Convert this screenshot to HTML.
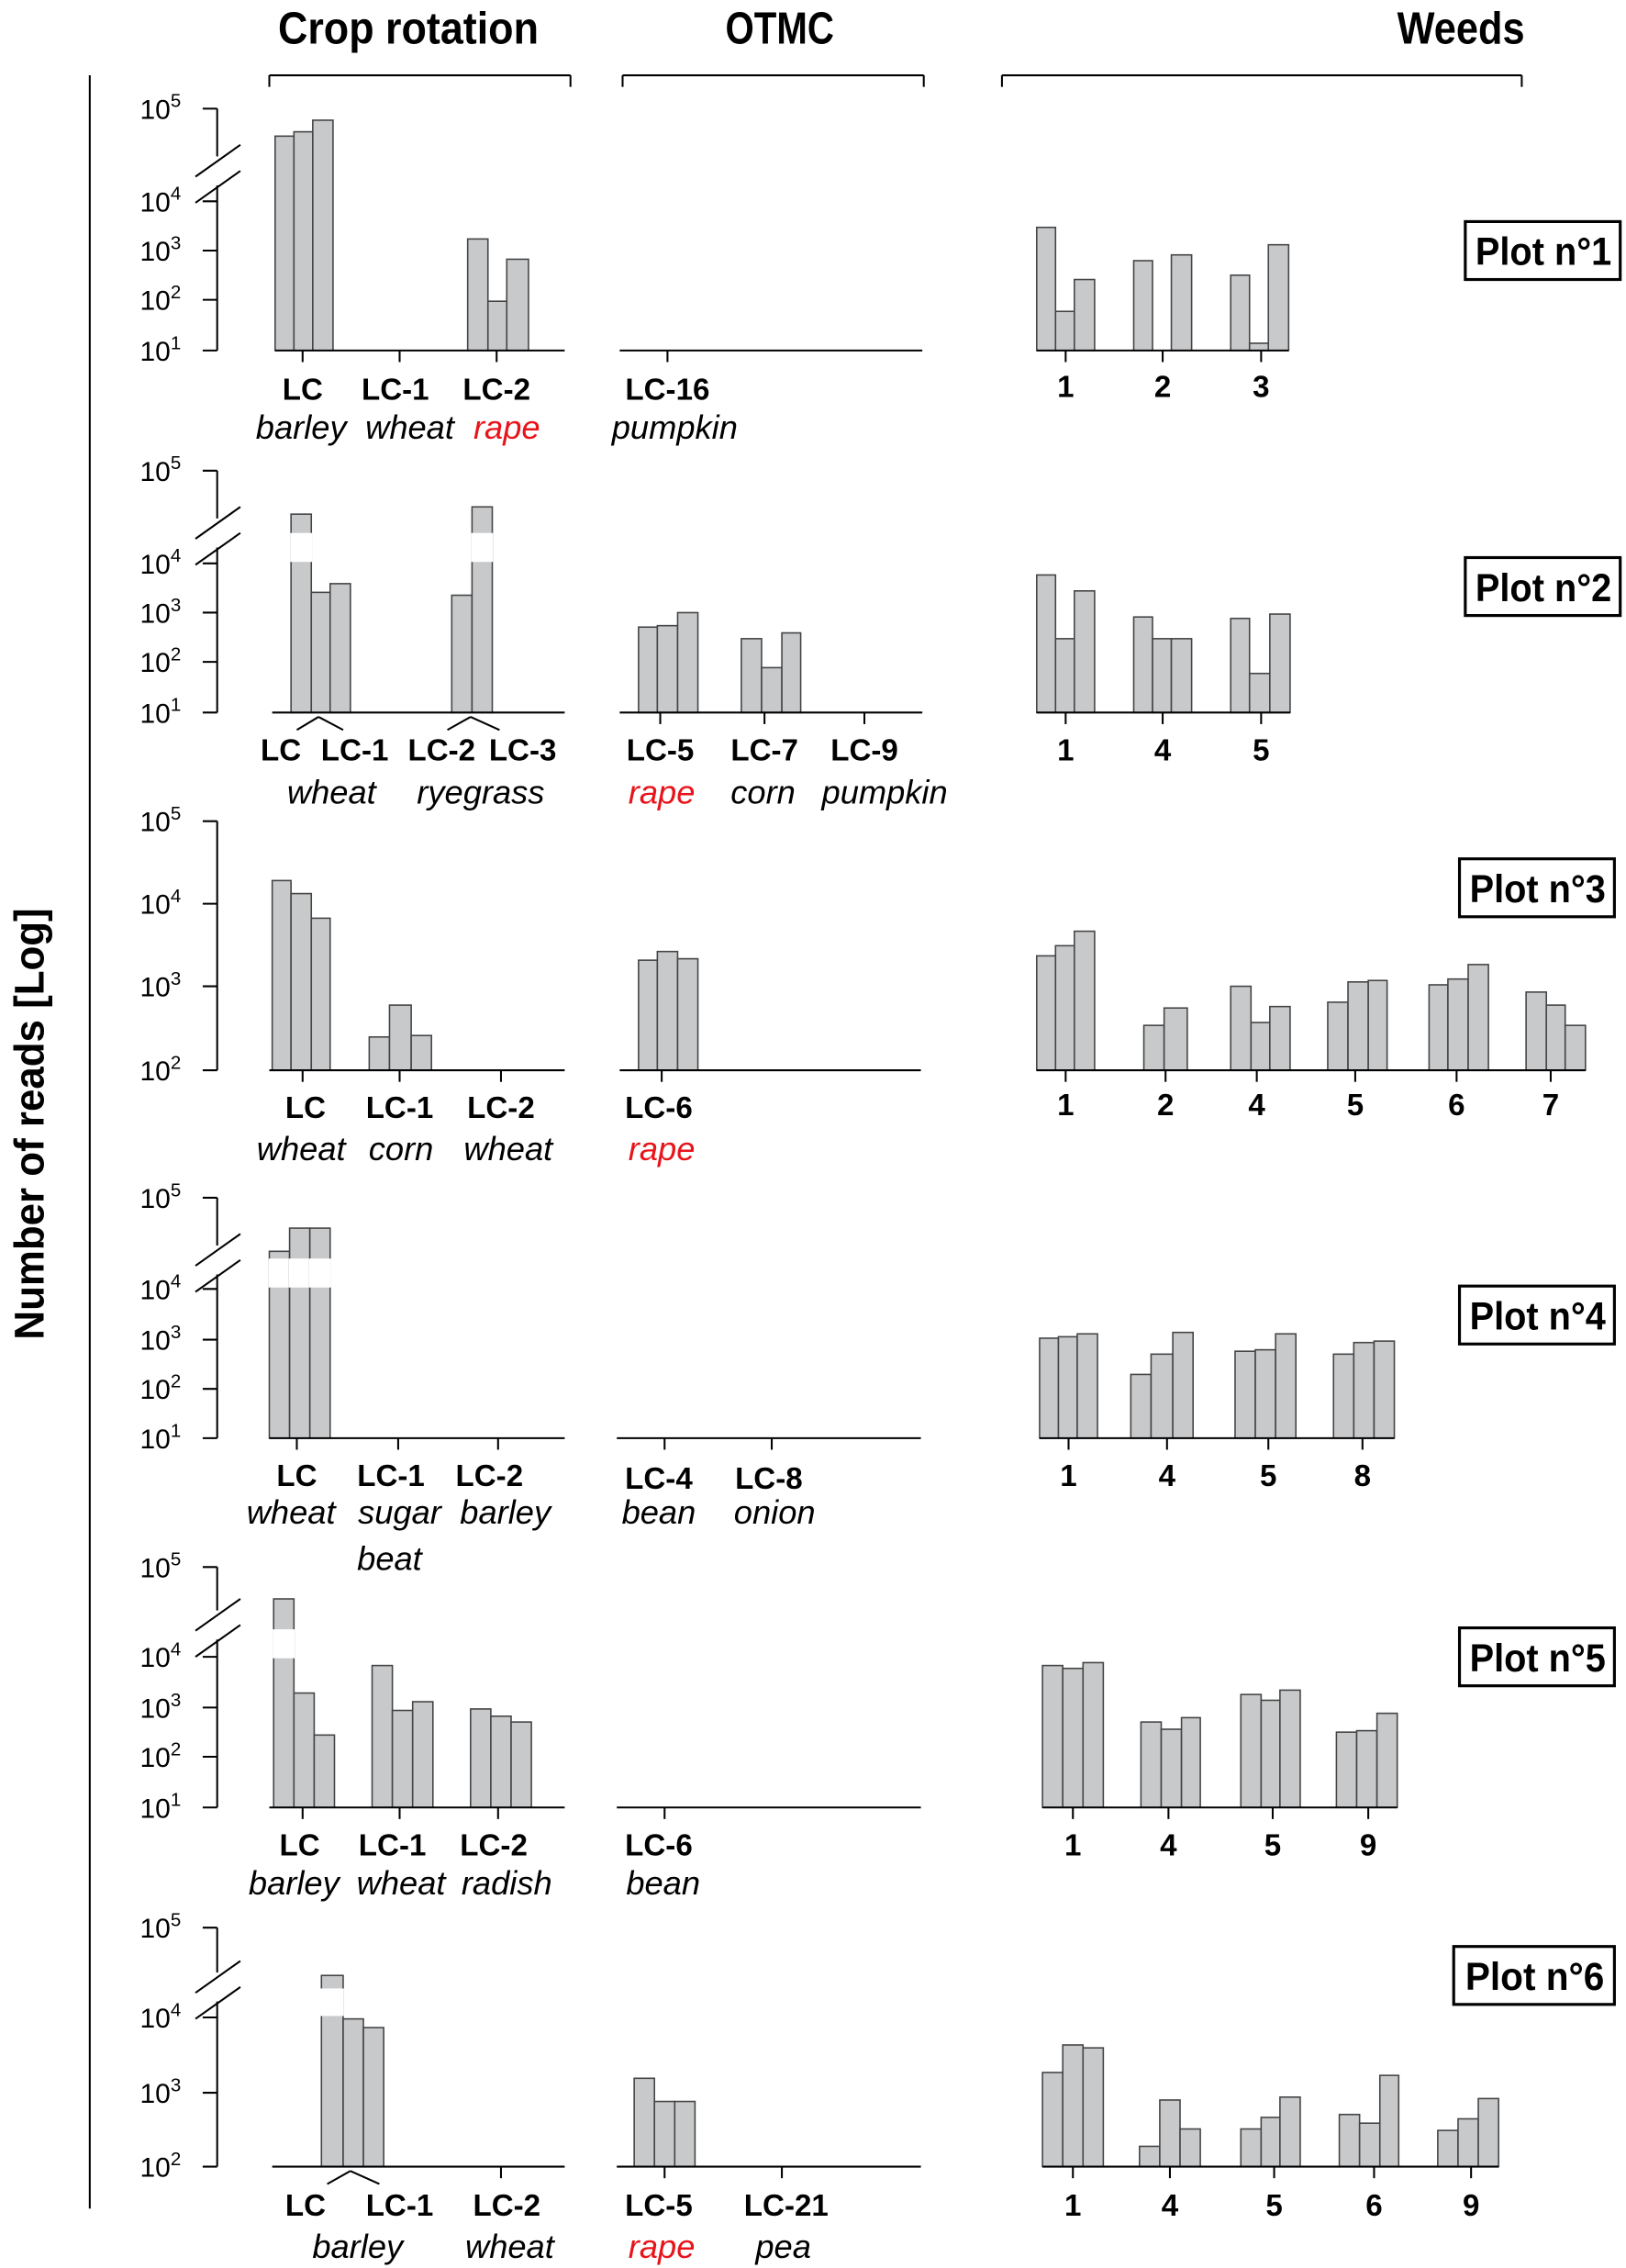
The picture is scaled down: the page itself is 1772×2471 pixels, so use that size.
<!DOCTYPE html>
<html><head><meta charset="utf-8"><style>
html,body{margin:0;padding:0;background:#fff}
svg{display:block}
text{font-family:"Liberation Sans Narrow","Liberation Sans",sans-serif;fill:#000}
.h{font-size:31px;font-weight:bold}
.b{font-size:21px;font-weight:bold;text-anchor:middle}
.i{font-size:23px;font-style:italic;text-anchor:middle;font-family:"Liberation Sans",sans-serif}
.r{fill:#e8141b}
.t{font-size:19px;text-anchor:end;font-family:"Liberation Sans",sans-serif}
.t tspan.s{font-size:13px}
.p{font-size:27px;font-weight:bold}
</style></head><body>
<svg id="s" width="1772" height="2471" viewBox="0 0 1123 1566" preserveAspectRatio="none" xmlns="http://www.w3.org/2000/svg">
<g id="g" stroke="#000" stroke-width="1.3" fill="none"></g>
<text class="h" x="192" y="30" textLength="180" lengthAdjust="spacingAndGlyphs">Crop rotation</text>
<text class="h" x="501" y="30" textLength="75" lengthAdjust="spacingAndGlyphs">OTMC</text>
<text class="h" x="965" y="30" textLength="88" lengthAdjust="spacingAndGlyphs">Weeds</text>
<text class="h" transform="translate(30,925) rotate(-90)" style="font-size:29px" textLength="298" lengthAdjust="spacingAndGlyphs">Number of reads [Log]</text>
<rect x="1012" y="153" width="107" height="40" fill="none" stroke="#000" stroke-width="2"/><text class="p" x="1019" y="183" textLength="94" lengthAdjust="spacingAndGlyphs">Plot n°1</text>
<rect x="1012" y="385" width="107" height="40" fill="none" stroke="#000" stroke-width="2"/><text class="p" x="1019" y="415" textLength="94" lengthAdjust="spacingAndGlyphs">Plot n°2</text>
<rect x="1008" y="593" width="107" height="40" fill="none" stroke="#000" stroke-width="2"/><text class="p" x="1015" y="623" textLength="94" lengthAdjust="spacingAndGlyphs">Plot n°3</text>
<rect x="1008" y="888" width="107" height="40" fill="none" stroke="#000" stroke-width="2"/><text class="p" x="1015" y="918" textLength="94" lengthAdjust="spacingAndGlyphs">Plot n°4</text>
<rect x="1008" y="1124" width="107" height="40" fill="none" stroke="#000" stroke-width="2"/><text class="p" x="1015" y="1154" textLength="94" lengthAdjust="spacingAndGlyphs">Plot n°5</text>
<rect x="1004" y="1344" width="111" height="40" fill="none" stroke="#000" stroke-width="2"/><text class="p" x="1012" y="1374" textLength="96" lengthAdjust="spacingAndGlyphs">Plot n°6</text>
<g class="t">
<text class="t" x="125" y="82">10<tspan class="s" dy="-8">5</tspan></text>
<text class="t" x="125" y="146">10<tspan class="s" dy="-8">4</tspan></text>
<text class="t" x="125" y="180">10<tspan class="s" dy="-8">3</tspan></text>
<text class="t" x="125" y="214">10<tspan class="s" dy="-8">2</tspan></text>
<text class="t" x="125" y="249">10<tspan class="s" dy="-8">1</tspan></text>
<text class="t" x="125" y="332">10<tspan class="s" dy="-8">5</tspan></text>
<text class="t" x="125" y="396">10<tspan class="s" dy="-8">4</tspan></text>
<text class="t" x="125" y="430">10<tspan class="s" dy="-8">3</tspan></text>
<text class="t" x="125" y="464">10<tspan class="s" dy="-8">2</tspan></text>
<text class="t" x="125" y="499">10<tspan class="s" dy="-8">1</tspan></text>
<text class="t" x="125" y="574">10<tspan class="s" dy="-8">5</tspan></text>
<text class="t" x="125" y="631">10<tspan class="s" dy="-8">4</tspan></text>
<text class="t" x="125" y="688">10<tspan class="s" dy="-8">3</tspan></text>
<text class="t" x="125" y="746">10<tspan class="s" dy="-8">2</tspan></text>
<text class="t" x="125" y="834">10<tspan class="s" dy="-8">5</tspan></text>
<text class="t" x="125" y="897">10<tspan class="s" dy="-8">4</tspan></text>
<text class="t" x="125" y="932">10<tspan class="s" dy="-8">3</tspan></text>
<text class="t" x="125" y="966">10<tspan class="s" dy="-8">2</tspan></text>
<text class="t" x="125" y="1000">10<tspan class="s" dy="-8">1</tspan></text>
<text class="t" x="125" y="1089">10<tspan class="s" dy="-8">5</tspan></text>
<text class="t" x="125" y="1151">10<tspan class="s" dy="-8">4</tspan></text>
<text class="t" x="125" y="1186">10<tspan class="s" dy="-8">3</tspan></text>
<text class="t" x="125" y="1220">10<tspan class="s" dy="-8">2</tspan></text>
<text class="t" x="125" y="1255">10<tspan class="s" dy="-8">1</tspan></text>
<text class="t" x="125" y="1338">10<tspan class="s" dy="-8">5</tspan></text>
<text class="t" x="125" y="1400">10<tspan class="s" dy="-8">4</tspan></text>
<text class="t" x="125" y="1452">10<tspan class="s" dy="-8">3</tspan></text>
<text class="t" x="125" y="1503">10<tspan class="s" dy="-8">2</tspan></text>
</g>
<text class="b" x="209" y="276">LC</text><text class="b" x="273" y="276">LC-1</text><text class="b" x="343" y="276">LC-2</text>
<text class="i" x="208" y="303">barley</text><text class="i" x="283" y="303">wheat</text><text class="i r" x="350" y="303">rape</text>
<text class="b" x="461" y="276">LC-16</text><text class="i" x="466" y="303">pumpkin</text>
<text class="b" x="736" y="274">1</text><text class="b" x="803" y="274">2</text><text class="b" x="871" y="274">3</text>
<text class="b" x="194" y="525">LC</text><text class="b" x="245" y="525">LC-1</text><text class="b" x="305" y="525">LC-2</text><text class="b" x="361" y="525">LC-3</text>
<text class="i" x="229" y="555">wheat</text><text class="i" x="332" y="555">ryegrass</text>
<text class="b" x="456" y="525">LC-5</text><text class="b" x="528" y="525">LC-7</text><text class="b" x="597" y="525">LC-9</text>
<text class="i r" x="457" y="555">rape</text><text class="i" x="527" y="555">corn</text><text class="i" x="611" y="555">pumpkin</text>
<text class="b" x="736" y="525">1</text><text class="b" x="803" y="525">4</text><text class="b" x="871" y="525">5</text>
<text class="b" x="211" y="772">LC</text><text class="b" x="276" y="772">LC-1</text><text class="b" x="346" y="772">LC-2</text>
<text class="i" x="208" y="801">wheat</text><text class="i" x="277" y="801">corn</text><text class="i" x="351" y="801">wheat</text>
<text class="b" x="455" y="772">LC-6</text><text class="i r" x="457" y="801">rape</text>
<text class="b" x="736" y="770">1</text><text class="b" x="805" y="770">2</text><text class="b" x="868" y="770">4</text><text class="b" x="936" y="770">5</text><text class="b" x="1006" y="770">6</text><text class="b" x="1071" y="770">7</text>
<text class="b" x="205" y="1026">LC</text><text class="b" x="270" y="1026">LC-1</text><text class="b" x="338" y="1026">LC-2</text>
<text class="i" x="201" y="1052">wheat</text><text class="i" x="276" y="1052">sugar</text><text class="i" x="349" y="1052">barley</text><text class="i" x="269" y="1084">beat</text>
<text class="b" x="455" y="1028">LC-4</text><text class="b" x="531" y="1028">LC-8</text>
<text class="i" x="455" y="1052">bean</text><text class="i" x="535" y="1052">onion</text>
<text class="b" x="738" y="1026">1</text><text class="b" x="806" y="1026">4</text><text class="b" x="876" y="1026">5</text><text class="b" x="941" y="1026">8</text>
<text class="b" x="207" y="1281">LC</text><text class="b" x="271" y="1281">LC-1</text><text class="b" x="341" y="1281">LC-2</text>
<text class="i" x="203" y="1308">barley</text><text class="i" x="277" y="1308">wheat</text><text class="i" x="350" y="1308">radish</text>
<text class="b" x="455" y="1281">LC-6</text><text class="i" x="458" y="1308">bean</text>
<text class="b" x="741" y="1281">1</text><text class="b" x="807" y="1281">4</text><text class="b" x="879" y="1281">5</text><text class="b" x="945" y="1281">9</text>
<text class="b" x="211" y="1530">LC</text><text class="b" x="276" y="1530">LC-1</text><text class="b" x="350" y="1530">LC-2</text>
<text class="i" x="247" y="1559">barley</text><text class="i" x="352" y="1559">wheat</text>
<text class="b" x="455" y="1530">LC-5</text><text class="b" x="543" y="1530">LC-21</text>
<text class="i r" x="457" y="1559">rape</text><text class="i" x="541" y="1559">pea</text>
<text class="b" x="741" y="1530">1</text><text class="b" x="808" y="1530">4</text><text class="b" x="880" y="1530">5</text><text class="b" x="949" y="1530">6</text><text class="b" x="1016" y="1530">9</text>
</svg>
<script>
var g=document.getElementById('g'),o='';
function L(a,b,c,d){o+='<line x1="'+a+'" y1="'+b+'" x2="'+c+'" y2="'+d+'"/>';}
function R(x1,x2,top,bot,gap){
 o+='<rect x="'+x1+'" y="'+top+'" width="'+(x2-x1)+'" height="'+(bot-top)+'" fill="#c8c9cb" stroke="#444" stroke-width="1"/>';
 if(gap)o+='<rect x="'+(x1-0.5)+'" y="'+gap[0]+'" width="'+(x2-x1+1)+'" height="'+(gap[1]-gap[0])+'" fill="#fff" stroke="none"/>';
}
L(62,52,62,1525);
[[186,394],[430,638],[692,1051]].forEach(function(b){L(b[0],52,b[1],52);L(b[0],52,b[0],60);L(b[1],52,b[1],60);});
function axis(ticks,base,brk){
 var top=ticks[0];
 if(brk){L(150,top,150,brk[0]);L(150,brk[1],150,base);
  L(135,brk[0]+14,166,brk[0]-8);L(135,brk[1]+12,166,brk[1]-10);}
 else L(150,top,150,base);
 ticks.forEach(function(t){L(140,t,150,t);});
}
function base(x1,x2,y,ticks){L(x1,y,x2,y);ticks.forEach(function(t){L(t,y,t,y+8);});}
function bars(arr,bot){arr.forEach(function(b){R(b[0],b[1],b[2],bot,b[3]);});}
axis([75,139,173,207,242],242,[108,128]);
bars([[190,203,94,0,[118,138]],[203,216,91,0,[118,138]],[216,230,83,0,[118,138]],[323,337,165],[337,350,208],[350,365,179]],242);
base(190,390,242,[209,276,343]);base(428,637,242,[461]);
bars([[716,729,157],[729,742,215],[742,756,193],[783,796,180],[809,823,176],[850,863,190],[863,876,237],[876,890,169]],242);
base(716,890,242,[736,803,871]);
axis([325,389,423,457,492],492,[358,378]);
bars([[201,215,355,[368,388]],[215,228,409],[228,242,403],[312,326,411],[326,340,350,[368,388]]],492);
L(188,492,390,492);L(205,504,220,495);L(220,495,237,504);L(309,504,325,495);L(325,495,345,504);
bars([[441,454,433],[454,468,432],[468,482,423],[512,526,441],[526,540,461],[540,553,437]],492);
base(428,637,492,[456,528,597]);
bars([[716,729,397],[729,742,441],[742,756,408],[783,796,426],[796,809,441],[809,823,441],[850,863,427],[863,877,465],[877,891,424]],492);
base(716,891,492,[736,803,871]);
axis([567,624,681,739],739);
bars([[188,201,608],[201,215,617],[215,228,634],[255,269,716],[269,284,694],[284,298,715]],739);
base(186,390,739,[209,276,346]);
bars([[441,454,663],[454,468,657],[468,482,662]],739);base(428,636,739,[457]);
bars([[716,729,660],[729,742,653],[742,756,643],[790,804,708],[804,820,696],[850,864,681],[864,877,706],[877,891,695],[917,931,692],[931,945,678],[945,958,677],[987,1000,680],[1000,1014,676],[1014,1028,666],[1054,1068,685],[1068,1081,694],[1081,1095,708]],739);
base(716,1095,739,[736,805,868,936,1006,1071]);
axis([827,890,925,959,993],993,[860,880]);
bars([[186,200,864,[869,889]],[200,214,848,[869,889]],[214,228,848,[869,889]]],993);
base(186,390,993,[205,275,344]);base(426,636,993,[459,533]);
bars([[718,731,924],[731,744,923],[744,758,921],[781,795,949],[795,810,935],[810,824,920],[853,867,933],[867,881,932],[881,895,921],[921,935,935],[935,949,927],[949,963,926]],993);
base(718,963,993,[738,806,876,941]);
axis([1082,1144,1179,1213,1248],1248,[1112,1132]);
bars([[189,203,1104,[1125,1145]],[203,217,1169],[217,231,1198],[257,271,1150],[271,285,1181],[285,299,1175],[325,339,1180],[339,353,1185],[353,367,1189]],1248);
base(186,390,1248,[209,276,344]);base(426,636,1248,[459]);
bars([[720,734,1150],[734,748,1152],[748,762,1148],[788,802,1189],[802,816,1194],[816,829,1186],[857,871,1170],[871,884,1174],[884,898,1167],[923,937,1196],[937,951,1195],[951,965,1183]],1248);
base(720,965,1248,[741,807,879,945]);
axis([1331,1393,1445,1496],1496,[1362,1382]);
bars([[222,237,1364,[1373,1392]],[237,251,1394],[251,265,1400]],1496);
L(188,1496,390,1496);L(226,1508,242,1499);L(242,1499,262,1508);L(346,1496,346,1504);
bars([[438,452,1435],[452,466,1451],[466,480,1451]],1496);base(426,636,1496,[459,540]);
bars([[720,734,1431],[734,748,1412],[748,762,1414],[787,801,1482],[801,815,1450],[815,829,1470],[857,871,1470],[871,884,1462],[884,898,1448],[925,939,1460],[939,953,1466],[953,966,1433],[993,1007,1471],[1007,1021,1463],[1021,1035,1449]],1496);
base(720,1035,1496,[741,808,880,949,1016]);
g.innerHTML=o;
</script>
</body></html>
